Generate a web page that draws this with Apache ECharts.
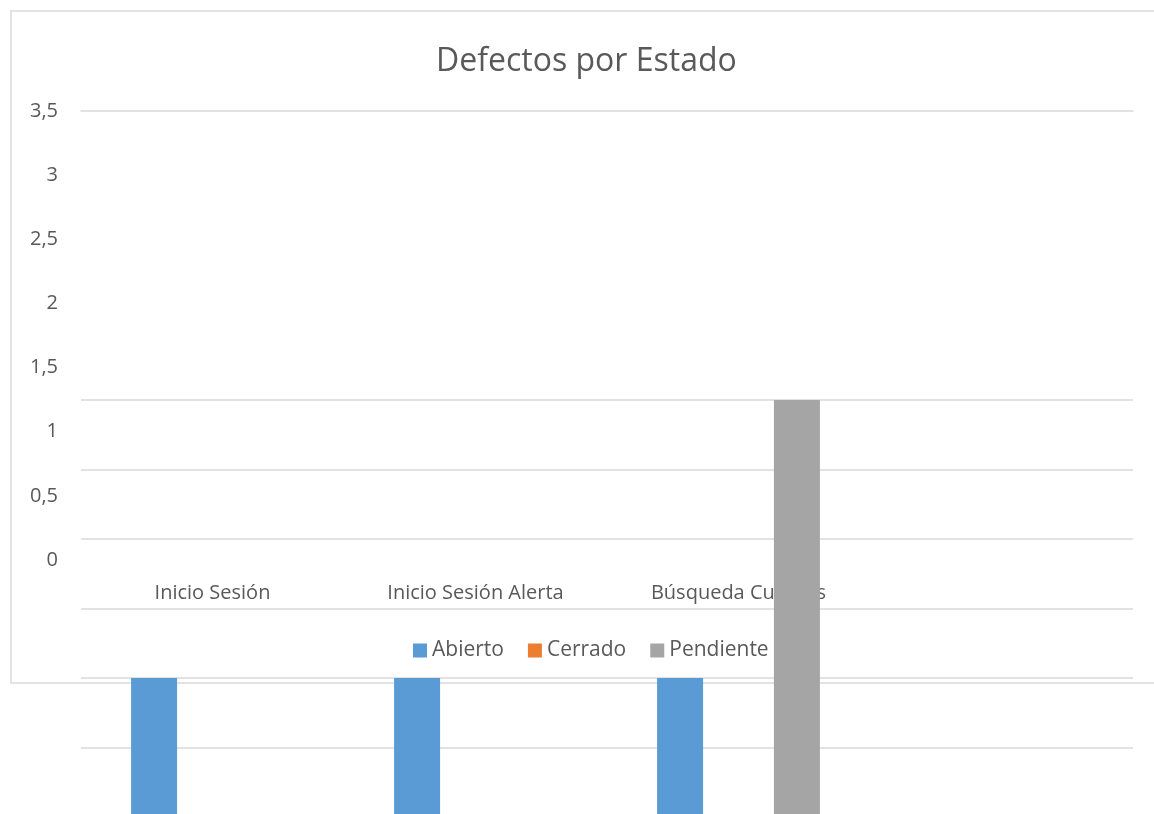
<!DOCTYPE html>
<html>
<head>
<meta charset="utf-8">
<script src="https://cdn.jsdelivr.net/npm/echarts@6/dist/echarts.min.js"></script>
<style>
html, body { margin: 0; padding: 0; background: #fff; }
#chart { width: 1154px; height: 814px; }
</style>
</head>
<body>
<div id="chart"></div>
<script>
// datos del gráfico
var categorias = ['Inicio Sesión', 'Inicio Sesión Alerta', 'Búsqueda Cuentas', ''];
var abierto = [1, 1, 1, null];
var cerrado = [0, 0, 0, null];
var pendiente = [0, 0, 3, null];

var fuente = '"Open Sans", "Noto Sans", sans-serif';
var gris = '#d9d9d9';

var chart = echarts.init(document.getElementById('chart'));
chart.setOption({
  backgroundColor: '#fff',
  animation: false,
  textStyle: { fontFamily: fuente },
  title: {
    text: 'Defectos por Estado',
    left: 431,
    top: 41,
    textStyle: { fontFamily: fuente, fontSize: 32, fontWeight: 'normal', color: '#595959' }
  },
  legend: {
    data: ['Abierto', 'Cerrado', 'Pendiente'],
    left: 408,
    top: 635,
    itemWidth: 14,
    itemHeight: 14,
    itemGap: 24,
    itemTextGap: 6,
    icon: 'rect',
    textStyle: { fontFamily: fuente, fontSize: 21, color: '#595959' }
  },
  graphic: [{
    type: 'rect',
    z: -10,
    shape: { x: 11, y: 11, width: 1160, height: 672 },
    style: { fill: 'none', stroke: gris, lineWidth: 1.5 }
  }],
  grid: [
    // capa de etiquetas
    { left: 81, right: 21, top: 111, height: 449, outerBoundsMode: 'none' },
    // capa de barras
    { left: 81, right: 21, top: 400, height: 417, outerBoundsMode: 'none' }
  ],
  xAxis: [
    {
      type: 'category', gridIndex: 0, data: categorias,
      axisLine: { show: false }, axisTick: { show: false },
      axisLabel: { margin: 23, fontFamily: fuente, fontSize: 20, color: '#595959' }
    },
    {
      type: 'category', gridIndex: 0, position: 'top', data: categorias,
      axisLine: { show: true, lineStyle: { color: gris, width: 1.5 } },
      axisTick: { show: false }, axisLabel: { show: false }
    },
    {
      type: 'category', gridIndex: 1, data: categorias,
      axisLine: { show: false }, axisTick: { show: false }, axisLabel: { show: false }
    }
  ],
  yAxis: [
    {
      type: 'value', gridIndex: 0, min: 0, max: 3.5, interval: 0.5,
      axisLine: { show: false }, axisTick: { show: false },
      splitLine: { show: false },
      axisLabel: {
        margin: 23, fontFamily: fuente, fontSize: 20, color: '#595959',
        padding: [4, 0, 0, 0],
        formatter: function (v) { return String(v).replace('.', ','); }
      }
    },
    {
      type: 'value', gridIndex: 1, min: 0, max: 3, interval: 0.5,
      axisLine: { show: false }, axisTick: { show: false }, axisLabel: { show: false },
      splitLine: { show: true, lineStyle: { color: gris, width: 1.5 } }
    }
  ],
  series: [
    {
      name: 'Abierto', type: 'bar', xAxisIndex: 2, yAxisIndex: 1,
      barWidth: 46, barGap: '27%',
      itemStyle: { color: '#5b9bd5' }, data: abierto
    },
    {
      name: 'Cerrado', type: 'bar', xAxisIndex: 2, yAxisIndex: 1,
      barWidth: 46, barGap: '27%',
      itemStyle: { color: '#ed7d31' }, data: cerrado
    },
    {
      name: 'Pendiente', type: 'bar', xAxisIndex: 2, yAxisIndex: 1,
      barWidth: 46, barGap: '27%',
      itemStyle: { color: '#a5a5a5' }, data: pendiente
    }
  ]
});
</script>
</body>
</html>
